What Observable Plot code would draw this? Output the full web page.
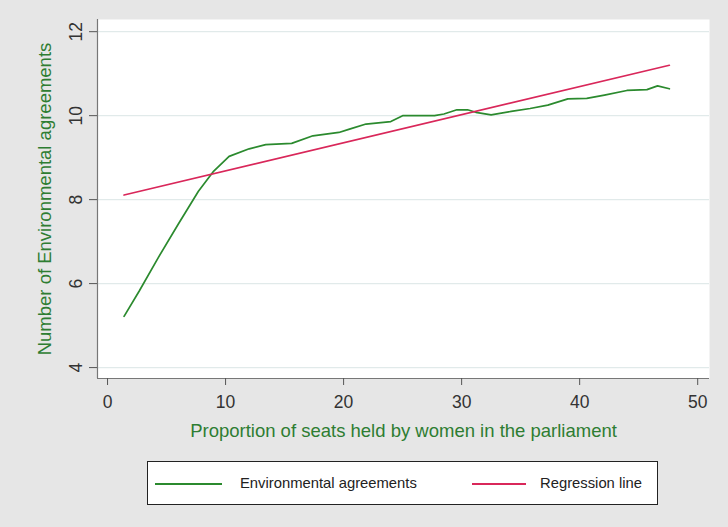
<!DOCTYPE html>
<html>
<head>
<meta charset="utf-8">
<script src="https://cdn.jsdelivr.net/npm/d3@7"></script>
<script src="https://cdn.jsdelivr.net/npm/@observablehq/plot@0.6"></script>
<style>
  html, body { margin: 0; padding: 0; background: #e6e6e6; }
  #wrap { position: relative; width: 728px; height: 527px; overflow: hidden; background: #e6e6e6; font-family: "Liberation Sans", Arial, sans-serif; }
  #legend { position: absolute; left: 147px; top: 461px; width: 509px; height: 42px; background: #fff; border: 1.5px solid #222; }
  .sw { position: absolute; top: 21px; height: 2px; }
  .lt { position: absolute; top: 13px; font-size: 14.8px; color: #222; white-space: nowrap; }
</style>
</head>
<body>
<div id="wrap"></div>
<script>
// Data
const proportion = [1.4, 2.7, 4.3, 6.0, 7.7, 9.0, 10.3, 12.0, 13.4, 15.6, 17.4, 19.6, 20.5, 21.9, 24.0, 25.0, 27.7, 28.5, 29.6, 30.5, 31.2, 32.5, 34.2, 35.8, 37.3, 39.0, 40.6, 42.1, 44.0, 45.7, 46.6, 47.6];
const agreements = [5.22, 5.83, 6.62, 7.42, 8.2, 8.68, 9.03, 9.21, 9.31, 9.34, 9.52, 9.60, 9.68, 9.80, 9.86, 10.0, 10.0, 10.04, 10.14, 10.14, 10.08, 10.02, 10.1, 10.17, 10.25, 10.4, 10.41, 10.49, 10.6, 10.62, 10.71, 10.64];
const regressionX = [1.4, 47.6];
const regressionY = [8.11, 11.2];
const xTicks = [0, 10, 20, 30, 40, 50];
const yTicks = [4, 6, 8, 10, 12];
const seriesNames = ["Environmental agreements", "Regression line"];
const xTitle = "Proportion of seats held by women in the parliament";
const yTitle = "Number of Environmental agreements";

const green = "#2b8a2e";
const red = "#d9275a";
const titleGreen = "#2e7d32";

const greenData = proportion.map((x, i) => ({x, y: agreements[i]}));
const regData = regressionX.map((x, i) => ({x, y: regressionY[i]}));

const xDomain = [-0.85, 51.0];
const yDomain = [3.74, 12.29];

const chart = Plot.plot({
  width: 728,
  height: 445,
  marginLeft: 97,
  marginRight: 19,
  marginTop: 19,
  marginBottom: 67,
  x: {domain: xDomain},
  y: {domain: yDomain},
  style: {fontFamily: "'Liberation Sans', Arial, sans-serif", background: "transparent", overflow: "visible"},
  marks: [
    Plot.frame({fill: "white", stroke: null}),
    Plot.gridY(yTicks, {stroke: "#e1eaea", strokeOpacity: 1, strokeWidth: 1.2}),
    Plot.line(greenData, {x: "x", y: "y", stroke: green, strokeWidth: 1.7}),
    Plot.line(regData, {x: "x", y: "y", stroke: red, strokeWidth: 1.7}),
    Plot.ruleX([xDomain[0]], {stroke: "#777", strokeWidth: 1.2}),
    Plot.ruleY([yDomain[0]], {stroke: "#777", strokeWidth: 1.2}),
    Plot.axisX(xTicks, {tickSize: 7, tickPadding: 10, fontSize: 17.5, fill: "#333", stroke: "#555", label: null}),
    Plot.axisY(yTicks, {tickSize: 8, text: null, stroke: "#555", label: null}),
    Plot.text(yTicks, {y: d => d, frameAnchor: "left", dx: -21, rotate: -90, text: d => String(d), fontSize: 17.5, fill: "#333", textAnchor: "middle", lineAnchor: "middle"}),
    Plot.text([yTitle], {frameAnchor: "left", dx: -52, rotate: -90, fontSize: 18.5, fill: titleGreen, textAnchor: "middle", lineAnchor: "middle"}),
    Plot.text([xTitle], {frameAnchor: "bottom", dy: 53, fontSize: 18.5, fill: titleGreen, textAnchor: "middle", lineAnchor: "middle"})
  ]
});

const wrap = document.getElementById("wrap");
wrap.appendChild(chart);

const legend = document.createElement("div");
legend.id = "legend";
legend.innerHTML = `
  <div class="sw" style="left:7px;width:67px;background:${green}"></div>
  <div class="lt" style="left:92px">${seriesNames[0]}</div>
  <div class="sw" style="left:324px;width:54px;background:${red}"></div>
  <div class="lt" style="left:392px">${seriesNames[1]}</div>`;
wrap.appendChild(legend);
</script>
</body>
</html>
